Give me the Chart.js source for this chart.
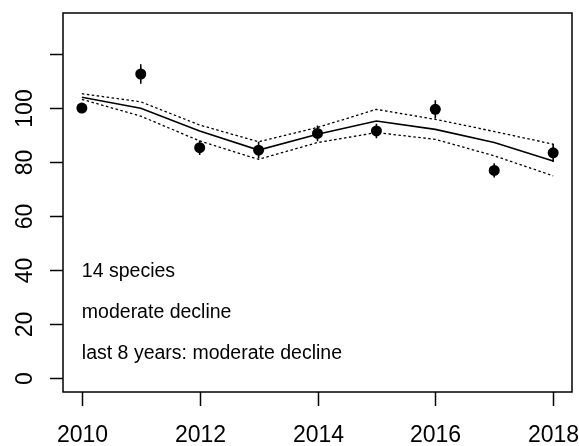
<!DOCTYPE html>
<html>
<head>
<meta charset="utf-8">
<script src="https://cdn.jsdelivr.net/npm/chart.js@4/dist/chart.umd.min.js"></script>
<style>
  html, body { margin: 0; padding: 0; background: #fff; }
  #wrap { width: 579px; height: 446px; }
</style>
</head>
<body>
<div id="wrap"><canvas id="c" width="579" height="446"></canvas></div>
<script>
// ---- data ----
const years    = [2010, 2011, 2012, 2013, 2014, 2015, 2016, 2017, 2018];
const observed = [100.0, 112.6, 85.3, 84.4, 90.6, 91.5, 99.5, 76.9, 83.4];
const obsError = [1.5, 3.6, 2.7, 3.1, 2.9, 2.7, 3.4, 2.6, 3.4];
const trend    = [104.0, 99.9, 91.5, 84.4, 90.3, 95.2, 92.1, 87.2, 80.4];
const upperCI  = [105.3, 102.3, 93.7, 87.5, 92.8, 99.5, 95.8, 91.3, 86.6];
const lowerCI  = [103.2, 97.0, 87.8, 81.0, 87.2, 90.9, 88.4, 82.3, 74.9];
const xTicks   = [2010, 2012, 2014, 2016, 2018];
const xTickLabels = ['2010', '2012', '2014', '2016', '2018'];
const yTicks   = [0, 20, 40, 60, 80, 100, 120];
const yTickLabels = ['0', '20', '40', '60', '80', '100', ''];
const notes    = ['14 species', 'moderate decline', 'last 8 years: moderate decline'];

const toXY = arr => years.map((yr, i) => ({ x: yr, y: arr[i] }));
const errData = [];
years.forEach((yr, i) => {
  errData.push({ x: yr, y: observed[i] - obsError[i] });
  errData.push({ x: yr, y: observed[i] + obsError[i] });
  errData.push({ x: yr, y: null });
});

const FONT = '"Liberation Sans", Arial, sans-serif';

const rAxes = {
  id: 'rAxes',
  afterDraw(chart) {
    const { ctx, chartArea: a, scales } = chart;
    const xs = scales.x, ys = scales.y;
    ctx.save();
    ctx.strokeStyle = '#000';
    ctx.fillStyle = '#000';
    ctx.lineWidth = 1.5;
    ctx.strokeRect(a.left, a.top, a.right - a.left, a.bottom - a.top);

    // x axis ticks + labels
    ctx.font = '23px ' + FONT;
    ctx.textAlign = 'center';
    ctx.textBaseline = 'alphabetic';
    xTicks.forEach((v, i) => {
      const px = Math.round(xs.getPixelForValue(v)) + 0.5;
      ctx.beginPath();
      ctx.moveTo(px, a.bottom);
      ctx.lineTo(px, a.bottom + 14);
      ctx.stroke();
      ctx.fillText(xTickLabels[i], px, 442);
    });

    // y axis ticks + rotated labels
    yTicks.forEach((v, i) => {
      const py = Math.round(ys.getPixelForValue(v)) + 0.5;
      ctx.beginPath();
      ctx.moveTo(a.left, py);
      ctx.lineTo(a.left - 13, py);
      ctx.stroke();
      if (yTickLabels[i]) {
        ctx.save();
        ctx.translate(32, py);
        ctx.rotate(-Math.PI / 2);
        ctx.font = '23px ' + FONT;
        ctx.textAlign = 'center';
        ctx.textBaseline = 'alphabetic';
        ctx.fillText(yTickLabels[i], 0, 0);
        ctx.restore();
      }
    });

    // notes in the plot
    ctx.font = '19.5px ' + FONT;
    ctx.textAlign = 'left';
    ctx.textBaseline = 'alphabetic';
    const nx = xs.getPixelForValue(years[0]);
    const ny0 = ys.getPixelForValue(37.5);
    notes.forEach((t, i) => ctx.fillText(t, nx, ny0 + i * 41));
    ctx.restore();
  }
};

new Chart(document.getElementById('c'), {
  type: 'line',
  data: {
    datasets: [
      { label: 'upper', data: toXY(upperCI), borderColor: '#000', borderWidth: 1.3, borderDash: [2.5, 2.5], pointRadius: 0, fill: false, tension: 0 },
      { label: 'lower', data: toXY(lowerCI), borderColor: '#000', borderWidth: 1.3, borderDash: [2.5, 2.5], pointRadius: 0, fill: false, tension: 0 },
      { label: 'trend', data: toXY(trend), borderColor: '#000', borderWidth: 1.6, pointRadius: 0, fill: false, tension: 0 },
      { label: 'err', data: errData, borderColor: '#000', borderWidth: 1.6, pointRadius: 0, spanGaps: false, fill: false },
      { label: 'obs', data: toXY(observed), showLine: false, pointRadius: 5.5, pointHoverRadius: 5.5, pointBackgroundColor: '#000', pointBorderWidth: 0, borderColor: '#000' }
    ]
  },
  options: {
    responsive: false,
    animation: false,
    devicePixelRatio: 1,
    layout: { padding: { left: 63, right: 7, top: 13, bottom: 54 } },
    plugins: { legend: { display: false }, tooltip: { enabled: false } },
    scales: {
      x: { type: 'linear', display: false, min: 2009.68, max: 2018.32 },
      y: { type: 'linear', display: false, min: -5.2, max: 135.2 }
    }
  },
  plugins: [rAxes]
});
</script>
</body>
</html>
